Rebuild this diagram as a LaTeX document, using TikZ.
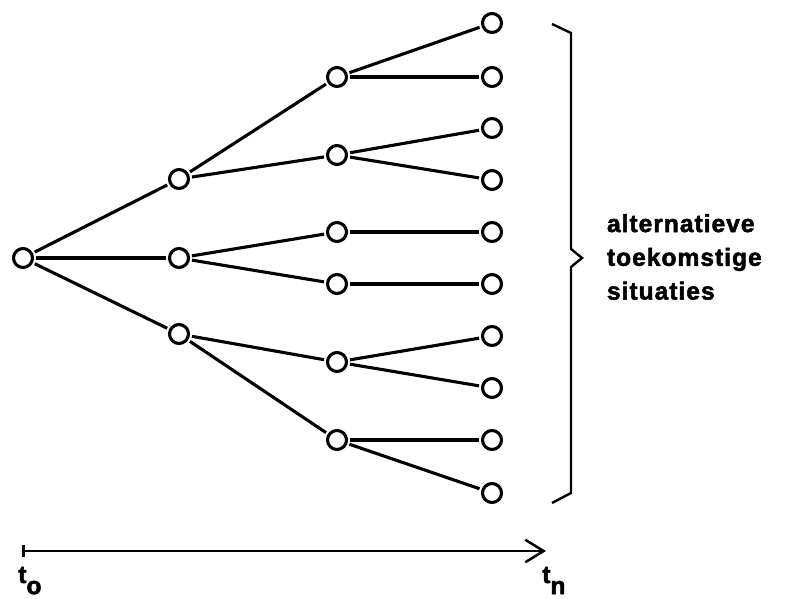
\documentclass[tikz,border=0pt]{standalone}
\usepackage{fontspec}
\setmainfont{Liberation Sans}
\newfontfamily\heavyfont{Liberation Sans}[UprightFont=*-Bold, FakeBold=2, LetterSpace=4]
\usetikzlibrary{arrows.meta,positioning}
\newcommand{\tsub}[2]{#1\raisebox{-0.45em}{#2}}

\begin{document}
\begin{tikzpicture}[x=0.025cm, y=-0.025cm,
    sit/.style={circle, draw, line width=2.2pt, minimum size=13.5pt, inner sep=0pt, outer sep=2.6pt},
    tak/.style={line width=2.2pt},
    lbl/.style={font=\heavyfont\fontsize{17.5}{24}\selectfont}]
  \useasboundingbox (0,0) rectangle (787,598);
  % Root and first branching
  \node[sit] (r) at (23,258) {};
  \foreach \y [count=\i] in {179,258,334}
    \node[sit] (a\i) at (179,\y) {};
  % Second branching
  \foreach \y [count=\i] in {77,155,232,284,362,440}
    \node[sit] (b\i) at (337,\y) {};
  % Future situations
  \foreach \y [count=\i] in {23,77,128,180,232,284,336,388,440,493}
    \node[sit] (c\i) at (492,\y) {};
  % Branches
  \foreach \p/\q in {r/a1,r/a2,r/a3,a1/b1,a1/b2,a2/b3,a2/b4,a3/b5,a3/b6,
                     b1/c1,b1/c2,b2/c3,b2/c4,b3/c5,b4/c6,b5/c7,b5/c8,b6/c9,b6/c10}
    \draw[tak] (\p) -- (\q);
  % Brace
  \draw[line width=1.7pt, line join=miter]
    (552,24) -- (571,33) -- (571,249) -- (582,258) -- (571,267) -- (571,493) -- (552,503);
  \node[lbl, align=left, anchor=west] (alt) at (602,257)
    {alternatieve\\toekomstige\\situaties};
  % Time axis
  \coordinate (t0) at (22,551);
  \coordinate (tn) at (546,551);
  \draw[line width=1.8pt, {Bar[width=8pt]}-{Straight Barb[length=13pt,width=16pt]}] (t0) -- (tn);
  \node[lbl, anchor=base west, inner sep=0pt] (lo) at (18,583) {\tsub{t}{o}};
  \node[lbl, anchor=base west, inner sep=0pt] (ln) at (542,583) {\tsub{t}{n}};
\end{tikzpicture}
\end{document}
